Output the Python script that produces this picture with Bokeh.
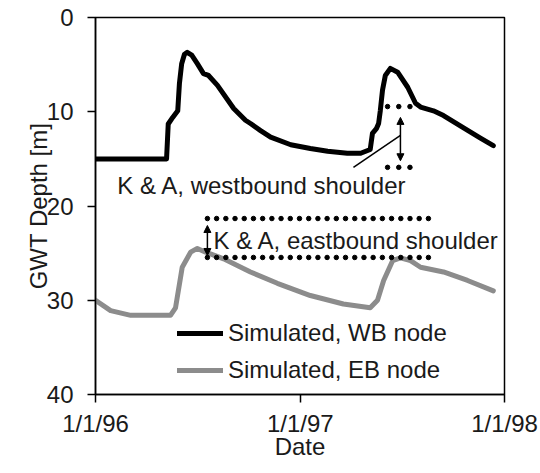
import numpy as np
import pandas as pd
from bokeh.plotting import figure
from bokeh.models import Range1d, FixedTicker, Legend, LegendItem, Arrow, NormalHead
from bokeh.core.properties import value
from bokeh.embed import file_html
from bokeh.resources import INLINE

# ---- data ----
wb_dates = ["1996-01-01", "1996-05-07", "1996-05-10", "1996-05-18", "1996-05-27", "1996-05-30",
            "1996-06-03", "1996-06-08", "1996-06-13", "1996-06-21", "1996-07-01", "1996-07-12",
            "1996-07-21", "1996-08-06", "1996-09-04", "1996-09-25", "1996-10-04", "1996-10-22",
            "1996-11-09", "1996-12-15", "1997-01-19", "1997-02-19", "1997-03-26", "1997-04-19",
            "1997-05-06", "1997-05-10", "1997-05-17", "1997-05-21", "1997-05-24", "1997-05-28",
            "1997-06-02", "1997-06-11", "1997-06-24", "1997-07-12", "1997-07-26", "1997-08-04",
            "1997-08-27", "1997-09-14", "1997-10-14", "1997-11-19", "1997-12-12"]
wb_depth = [15.0, 15.0, 11.3, 10.6, 9.9, 7.0,
            4.9, 3.9, 3.7, 4.0, 4.9, 5.95,
            6.15, 7.2, 9.65, 10.9, 11.25, 12.0,
            12.7, 13.5, 13.9, 14.2, 14.4, 14.4,
            14.0, 12.3, 11.8, 11.25, 9.9, 7.7,
            6.15, 5.4, 5.8, 7.4, 9.1, 9.5,
            9.9, 10.4, 11.5, 12.8, 13.6]

eb_dates = ["1996-01-01", "1996-01-28", "1996-03-04", "1996-05-14", "1996-05-23", "1996-06-04",
            "1996-06-19", "1996-07-01", "1996-07-16", "1996-08-17", "1996-10-04", "1996-11-21",
            "1997-01-19", "1997-03-19", "1997-05-06", "1997-05-19", "1997-05-30", "1997-06-15",
            "1997-06-29", "1997-07-17", "1997-08-04", "1997-09-14", "1997-10-27", "1997-12-12"]
eb_depth = [30.0, 31.1, 31.6, 31.6, 30.8, 26.5,
            24.9, 24.5, 24.9, 25.6, 27.0, 28.2,
            29.5, 30.4, 30.8, 30.0, 27.9, 25.8,
            25.5, 25.8, 26.5, 27.0, 27.9, 29.0]

series_names = ["Simulated, WB node", "Simulated, EB node"]
x_tick_dates = ["1996-01-01", "1997-01-01", "1998-01-01"]
x_tick_labels = ["1/1/96", "1/1/97", "1/1/98"]
y_ticks = [0, 10, 20, 30, 40]

# annotations (K & A shoulders)
wb_shoulder_label = "K & A, westbound shoulder"
wb_shoulder_top, wb_shoulder_bottom = 9.45, 15.9
wb_dot_dates = ["1997-06-06", "1997-06-26", "1997-07-16"]
wb_arrow_date, wb_arrow_top, wb_arrow_bottom = "1997-06-29", 10.6, 15.2
wb_leader = (["1997-04-06", "1997-06-29"], [15.9, 12.5])
wb_label_pos = ("1996-02-09", 17.82)

eb_shoulder_label = "K & A, eastbound shoulder"
eb_shoulder_top, eb_shoulder_bottom = 21.33, 25.46
eb_dot_start, eb_dot_end, eb_dot_count = "1996-07-19", "1997-08-18", 25
eb_arrow_date, eb_arrow_top, eb_arrow_bottom = "1996-07-19", 22.07, 25.25
eb_label_pos = ("1996-07-30", 23.65)


def ms(s):
    return pd.Timestamp(s).value / 1e6


FONT = "Liberation Sans"
FS = "24px"
TXT = "#1a1a1a"

p = figure(width=540, height=473, x_axis_type="datetime", output_backend="svg",
           toolbar_location=None,
           x_range=Range1d(ms("1996-01-01"), ms("1998-01-01")),
           y_range=Range1d(40, 0),
           min_border_left=95, min_border_right=36, min_border_top=17, min_border_bottom=79)
p.grid.visible = False
p.outline_line_color = "black"
p.outline_line_width = 1.5
p.background_fill_color = "white"
p.border_fill_color = "white"

# axes
xa = p.xaxis[0]
xa.ticker = FixedTicker(ticks=[ms(d) for d in x_tick_dates])
xa.major_label_overrides = {ms(d): lab for d, lab in zip(x_tick_dates, x_tick_labels)}
xa.axis_label = "Date"
ya = p.yaxis[0]
ya.ticker = FixedTicker(ticks=y_ticks)
ya.axis_label = "GWT Depth [m]"
for ax in (xa, ya):
    ax.axis_line_color = "black"
    ax.axis_line_width = 1.5
    ax.major_tick_line_color = "black"
    ax.major_tick_line_width = 1.5
    ax.major_tick_in = 0
    ax.major_tick_out = 8
    ax.minor_tick_line_color = None
    ax.major_label_text_font = FONT
    ax.major_label_text_font_size = FS
    ax.major_label_text_color = TXT
    ax.axis_label_text_font = FONT
    ax.axis_label_text_font_size = FS
    ax.axis_label_text_font_style = "normal"
    ax.axis_label_text_color = TXT
xa.major_label_standoff = 7
xa.axis_label_standoff = -7
ya.major_label_standoff = 14
ya.axis_label_standoff = -8

# series
wb_x = pd.to_datetime(wb_dates)
eb_x = pd.to_datetime(eb_dates)
r_wb = p.line(wb_x, wb_depth, line_color="black", line_width=5, line_join="round", line_cap="round")
r_eb = p.line(eb_x, eb_depth, line_color="#8c8c8c", line_width=5, line_join="round", line_cap="round")

# westbound shoulder annotation
wdx = pd.to_datetime(wb_dot_dates)
p.scatter(wdx, [wb_shoulder_top] * len(wdx), size=4.5, color="black")
p.scatter(wdx, [wb_shoulder_bottom] * len(wdx), size=4.5, color="black")
p.add_layout(Arrow(x_start=ms(wb_arrow_date), y_start=wb_arrow_bottom,
                   x_end=ms(wb_arrow_date), y_end=wb_arrow_top,
                   line_width=1.5, line_color="black",
                   start=NormalHead(size=7, fill_color="black", line_color="black"),
                   end=NormalHead(size=7, fill_color="black", line_color="black")))
p.line(pd.to_datetime(wb_leader[0]), wb_leader[1], line_color="black", line_width=1.5)
p.text(x=[pd.Timestamp(wb_label_pos[0])], y=[wb_label_pos[1]], text=[wb_shoulder_label],
       text_font=value(FONT), text_font_size=FS, text_color=TXT,
       text_baseline="alphabetic", text_align="left")

# eastbound shoulder annotation
edx = pd.to_datetime(np.linspace(ms(eb_dot_start), ms(eb_dot_end), eb_dot_count), unit="ms")
p.scatter(edx, [eb_shoulder_top] * len(edx), size=4.5, color="black")
p.scatter(edx, [eb_shoulder_bottom] * len(edx), size=4.5, color="black")
p.add_layout(Arrow(x_start=ms(eb_arrow_date), y_start=eb_arrow_bottom,
                   x_end=ms(eb_arrow_date), y_end=eb_arrow_top,
                   line_width=1.5, line_color="black",
                   start=NormalHead(size=7, fill_color="black", line_color="black"),
                   end=NormalHead(size=7, fill_color="black", line_color="black")))
p.text(x=[pd.Timestamp(eb_label_pos[0])], y=[eb_label_pos[1]], text=[eb_shoulder_label],
       text_font=value(FONT), text_font_size=FS, text_color=TXT,
       text_baseline="alphabetic", text_align="left")

# legend
legend = Legend(items=[LegendItem(label=series_names[0], renderers=[r_wb]),
                       LegendItem(label=series_names[1], renderers=[r_eb])],
                location=(82, 10), padding=0, margin=0, spacing=9,
                glyph_width=46, glyph_height=20, label_standoff=5,
                label_text_font=FONT, label_text_font_size=FS, label_text_color=TXT,
                border_line_alpha=0, background_fill_alpha=0)
p.add_layout(legend)

open("out.html", "w").write(file_html(p, INLINE))
